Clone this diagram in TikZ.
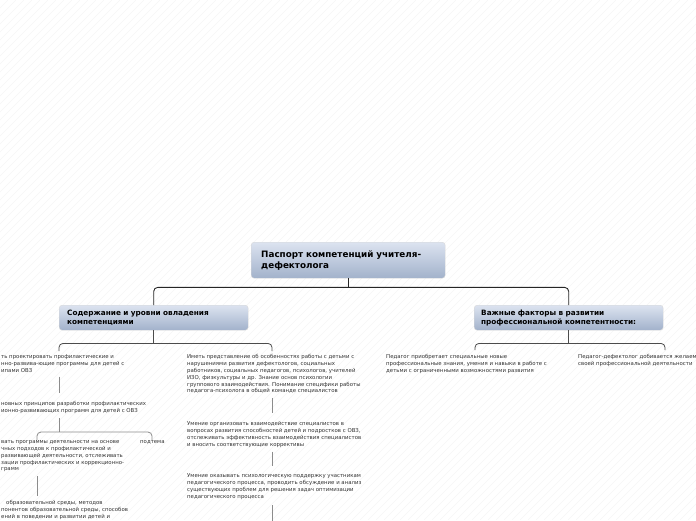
\documentclass[tikz,border=0pt]{standalone}
\usepackage{fontspec}
\setmainfont{DejaVu Sans}
\usetikzlibrary{positioning,calc}
\definecolor{boxtop}{HTML}{DCE3F0}
\definecolor{boxbot}{HTML}{A2B2CB}
\definecolor{itemtext}{HTML}{333333}
\tikzset{
  box/.style={draw=black!15, rounded corners=3pt, top color=boxtop, bottom color=boxbot, align=left, anchor=north west, inner ysep=0pt},
  topic/.style={box, text width=174pt, minimum height=36pt, inner xsep=10pt, font=\bfseries\fontsize{8.8}{11}\selectfont},
  subtopic/.style={box, text width=173pt, minimum height=25pt, inner xsep=8pt, font=\bfseries\fontsize{7.3}{9}\selectfont},
  item/.style={align=left, anchor=north west, inner sep=0pt, text=itemtext, font=\fontsize{5.4}{6.8}\selectfont},
  link/.style={line width=0.9pt, black!85, rounded corners=4pt},
  bracket/.style={line width=0.8pt, black!70, rounded corners=4pt},
  stem/.style={line width=0.8pt, black!45, rounded corners=4pt},
  hatch/.style={black!4, line width=0.4pt},
}

\begin{document}
\begin{tikzpicture}[x=1pt, y=-1pt]
  \useasboundingbox (0,0) rectangle (696,520);
  % faint background stripes
  \begin{scope}
    \clip (0,0) rectangle (696,520);
    \foreach \i in {-520,-512,...,696}
      \draw[hatch] (\i,520) -- ++(520,-520);
  \end{scope}

  % central topic and main branches
  \node[topic] (root) at (251,242) {Паспорт компетенций учителя-\\дефектолога};
  \node[subtopic] (content) at (59,305) {Содержание и уровни овладения\\компетенциями};
  \node[subtopic, inner xsep=7pt, text width=175pt] (factors) at (474,305) {Важные факторы в развитии\\профессиональной компетентности:};

  \coordinate (hub) at ($(root.south)+(0,9)$);
  \draw[link] (root.south) -- (hub);
  \draw[link] (content.north) |- (hub) -| (factors.north);

  % left branch
  \node[item] (l1) at (1,354.5) {ть проектировать профилактические и\\нно-развива-ющие программы для детей с\\ипами ОВЗ};
  \node[item] (l2) at (1,401.5) {новных принципов разработки профилактических\\ионно-развивающих программ для детей с ОВЗ};
  \node[item] (l3) at (1,440.5) {вать программы деятельности на основе\\чных подходов к профилактической и\\развивающей деятельности, отслеживать\\зации профилактических и коррекционно-\\грамм};
  \node[item] (sub) at (140,440.5) {подтема};
  \node[item] (l4) at (1,500.5) {\hspace*{5pt}образовательной среды, методов\\понентов образовательной среды, способов\\ений в поведении и развитии детей и};

  \node[item] (m1) at (187,354.5) {Иметь представление об особенностях работы с детьми с\\нарушениями развития дефектологов, социальных\\работников, социальных педагогов, психологов, учителей\\ИЗО, физкультуры и др. Знание основ психологии\\группового взаимодействия. Понимание специфики работы\\педагога-психолога в общей команде специалистов};
  \node[item] (m2) at (187,421.5) {Умение организовать взаимодействие специалистов в\\вопросах развития способностей детей и подростков с ОВЗ,\\отслеживать эффективность взаимодействия специалистов\\и вносить соответствующие коррективы};
  \node[item] (m3) at (187,473.5) {Умение оказывать психологическую поддержку участникам\\педагогического процесса, проводить обсуждение и анализ\\существующих проблем для решения задач оптимизации\\педагогического процесса};

  \coordinate (lhub) at ($(content.south)+(0,13)$);
  \coordinate (ltop) at (59,351);
  \coordinate (mtop) at (272,351);
  \draw[bracket] (content.south) -- (lhub);
  \draw[bracket] (ltop) |- (lhub) -| (mtop);

  \draw[stem, shorten <=4pt, shorten >=8.5pt] (l1.south -| ltop) -- (l2.north -| ltop);
  \coordinate (lhub2) at (59,432);
  \coordinate (l3top) at (37,440);
  \coordinate (subtop) at (152,440);
  \draw[stem, shorten <=4pt] (l2.south -| ltop) -- (lhub2);
  \draw[stem] (l3top) |- (lhub2) -| (subtop);
  \draw[stem, shorten <=4pt, shorten >=4.5pt] (l3.south -| l3top) -- (l4.north -| l3top);

  \draw[stem, shorten <=4pt, shorten >=8.5pt] (m1.south -| mtop) -- (m2.north -| mtop);
  \draw[stem, shorten <=4pt, shorten >=7.5pt] (m2.south -| mtop) -- (m3.north -| mtop);
  \coordinate (mend) at (272,522);
  \draw[stem, shorten <=6pt] (m3.south -| mtop) -- (mend);

  % right branch
  \node[item] (r1) at (386,354.5) {Педагог приобретает специальные новые\\профессиональные знания, умения и навыки в работе с\\детьми с ограниченными возможностями развития};
  \node[item] (r2) at (578,354.5) {Педагог-дефектолог добивается желаемы\\своей профессиональной деятельности};

  \coordinate (rhub) at ($(factors.south)+(0,13)$);
  \coordinate (r1top) at (475,350);
  \coordinate (r2top) at (665,350);
  \draw[bracket] (factors.south) -- (rhub);
  \draw[bracket] (r1top) |- (rhub) -| (r2top);
\end{tikzpicture}
\end{document}
